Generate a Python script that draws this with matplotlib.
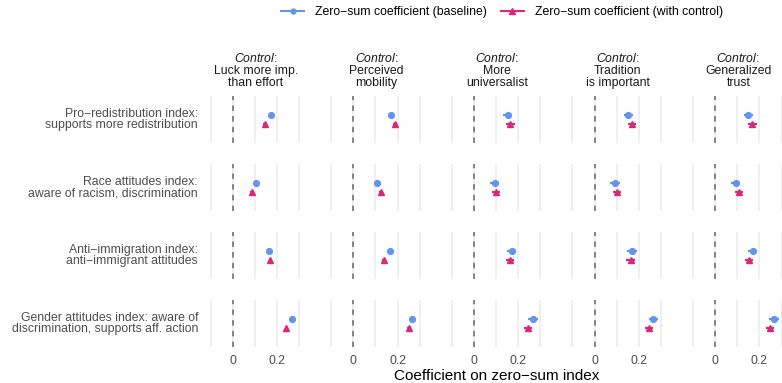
import numpy as np
import matplotlib.pyplot as plt
from matplotlib.lines import Line2D

plt.rcParams['font.family'] = ['Liberation Sans', 'DejaVu Sans']
plt.rcParams['mathtext.fontset'] = 'custom'
plt.rcParams['mathtext.rm'] = 'Liberation Sans'
plt.rcParams['mathtext.it'] = 'Liberation Sans:italic'

# outcome rows and control columns
outcomes = ["Pro\u2212redistribution index:\nsupports more redistribution",
            "Race attitudes index:\naware of racism, discrimination",
            "Anti\u2212immigration index:\nanti\u2212immigrant attitudes",
            "Gender attitudes index: aware of\ndiscrimination, supports aff. action"]
controls = ["Luck more imp.\nthan effort",
            "Perceived\nmobility",
            "More\nuniversalist",
            "Tradition\nis important",
            "Generalized\ntrust"]

# coefficients: rows = outcomes, columns = controls
coef_base = [[0.173, 0.172, 0.153, 0.153, 0.150],
             [0.105, 0.106, 0.094, 0.093, 0.093],
             [0.165, 0.164, 0.171, 0.169, 0.170],
             [0.266, 0.266, 0.267, 0.265, 0.266]]
coef_ctrl = [[0.147, 0.188, 0.165, 0.168, 0.168],
             [0.086, 0.124, 0.100, 0.101, 0.108],
             [0.170, 0.139, 0.163, 0.163, 0.152],
             [0.242, 0.250, 0.243, 0.245, 0.248]]
# half-width of the confidence intervals per control column
ci_base = [0.008, 0.008, 0.021, 0.021, 0.021]
ci_ctrl = [0.008, 0.008, 0.019, 0.019, 0.019]

blue = '#6495ED'
pink = '#DB2777'

W, H = 782, 383
fig = plt.figure(figsize=(W / 100, H / 100), dpi=100)

xlo, xhi = -0.14, 0.35
ppu = 221.5                      # pixels per x unit
left0 = 232.7 - (-xlo) * ppu
step = 120.6
pw = (xhi - xlo) * ppu
tops = [96, 164, 232, 300]
ph = 47

for i in range(len(outcomes)):
    for j in range(len(controls)):
        ax = fig.add_axes([(left0 + j * step) / W, 1 - (tops[i] + ph) / H, pw / W, ph / H])
        ax.set_xlim(xlo, xhi)
        ax.set_ylim(2.6, -2.6)
        for s in ax.spines.values():
            s.set_visible(False)
        ax.set_yticks([])
        ax.set_xticks([0, 0.2])
        ax.set_xticks([-0.1, 0.1, 0.3], minor=True)
        ax.grid(True, which='both', axis='x', color='#EBEBEB', lw=1.1)
        ax.set_axisbelow(True)
        ax.tick_params(which='both', length=0, labelsize=8.8, colors='#4D4D4D', pad=6)
        if i < len(outcomes) - 1:
            ax.set_xticklabels([])
        else:
            ax.set_xticklabels(['0', '0.2'])
        ax.axvline(0, color='#666666', lw=1.1, ls=(0, (3.6, 3.4)))

        ax.errorbar(coef_base[i][j], -0.5, xerr=ci_base[j], fmt='o', color=blue,
                    ms=4.2, elinewidth=1.6, capsize=0)
        ax.errorbar(coef_ctrl[i][j], 0.5, xerr=ci_ctrl[j], fmt='^', color=pink,
                    ms=4.6, elinewidth=1.6, capsize=0)

# row labels
for i, lab in enumerate(outcomes):
    fig.text(198 / W, 1 - (tops[i] + ph / 2) / H, lab, ha='right', va='center',
             fontsize=8.8, color='#4D4D4D', linespacing=0.98)

# column strips
for j, lab in enumerate(controls):
    cx = (left0 + j * step + pw / 2) / W
    fig.text(cx, 1 - 70.5 / H, '$\\mathit{Control}$:\n' + lab, ha='center', va='center',
             multialignment='center', fontsize=8.8, color='#1A1A1A', linespacing=1.05)

fig.text(496.5 / W, 1 - 376 / H, 'Coefficient on zero\u2212sum index',
         ha='center', va='center', fontsize=11)

handles = [Line2D([], [], color=blue, marker='o', ms=3.5, lw=1.5),
           Line2D([], [], color=pink, marker='^', ms=4, lw=1.5)]
fig.legend(handles, ['Zero\u2212sum coefficient (baseline)', 'Zero\u2212sum coefficient (with control)'],
           loc='center', bbox_to_anchor=(502 / W, 1 - 12 / H), ncol=2, frameon=False,
           fontsize=8.8, handlelength=1.9, handletextpad=0.9, columnspacing=1.1)

fig.savefig('out.png', dpi=100)
